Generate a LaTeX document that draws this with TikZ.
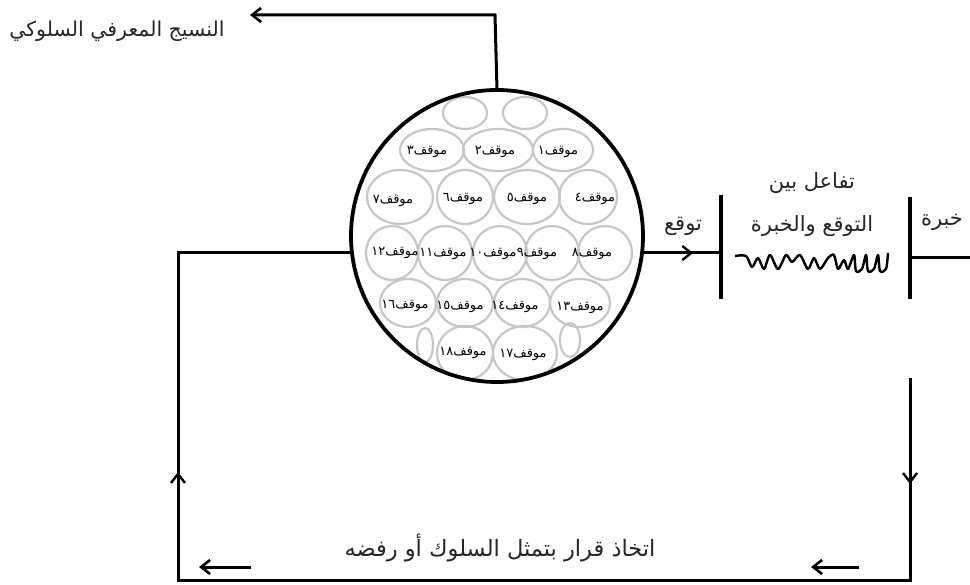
\documentclass[tikz,border=0pt]{standalone}
\usepackage{fontspec}
\usetikzlibrary{arrows.meta,decorations.markings}
\TeXXeTstate=1
\newfontfamily\arabicfont[Script=Arabic]{DejaVu Sans}
\newcommand{\artxt}[1]{\arabicfont\beginR #1\endR}
\newcommand{\mq}[1]{\arabicfont\beginR موقف\beginL#1\endL\endR}
\tikzset{midarrow/.tip={Straight Barb[length=9pt,width=14pt,line width=2.4pt]}}
\begin{document}
\begin{tikzpicture}[x=1pt,y=-1pt,
  conn/.style={line width=3pt,black},
  bar/.style={line width=3.2pt,black},
  barb/.style={-{Straight Barb[length=9pt,width=14pt,line width=2.6pt]}},
  lbl/.style={inner sep=0pt,text=black!85},
  sml/.style={inner sep=0pt,font=\fontsize{13}{15}\selectfont},
  cell/.style={draw=black!22,line width=2.2pt}]
\useasboundingbox (0,0) rectangle (970,585);
\fill[white] (0,0) rectangle (970,585);
% big circle
\node[circle,minimum size=292pt,inner sep=0pt] (big) at (497,236) {};
\begin{scope}
\clip (497,236) circle (146);
\foreach \cx/\cy/\rx/\ry in {465/113/22/16,525/113/22/16,
  432/150/32/21,498/150/35/21,563/150/30/21,
  400/197/33/27,465/197/28/27,527/197/33/27,588/197/29/27,
  392/253/26/27,445/253/27/27,500/253/27/27,552/253/27/27,605/253/27/27,
  408/303/28/24,465/303/28/24,522/303/28/24,580/303/30/24,
  465/353/28/27,525/353/32/27,425/345/8/17,570/340/10/17}
  \draw[cell] (\cx,\cy) ellipse [x radius=\rx, y radius=\ry];
\end{scope}
\draw[line width=3.8pt] (497,236) circle (146);
% labels in cells
\node[sml] (m1) at (558,152) {\mq{١}};
\node[sml] (m2) at (495,152) {\mq{٢}};
\node[sml] (m3) at (427,152) {\mq{٣}};
\node[sml] (m4) at (595,199) {\mq{٤}};
\node[sml] (m5) at (527,199) {\mq{٥}};
\node[sml] (m6) at (463,199) {\mq{٦}};
\node[sml] (m7) at (393,201) {\mq{٧}};
\node[sml] (m8) at (592,254) {\mq{٨}};
\node[sml] (m9) at (537,254) {\mq{٩}};
\node[sml] (m10) at (493,254) {\mq{١٠}};
\node[sml] (m11) at (443,254) {\mq{١١}};
\node[sml] (m12) at (395,253) {\mq{١٢}};
\node[sml] (m13) at (580,308) {\mq{١٣}};
\node[sml] (m14) at (515,307) {\mq{١٤}};
\node[sml] (m15) at (460,307) {\mq{١٥}};
\node[sml] (m16) at (405,306) {\mq{١٦}};
\node[sml] (m17) at (523,355) {\mq{١٧}};
\node[sml] (m18) at (463,353) {\mq{١٨}};
% top label and connector
\node[lbl,font=\fontsize{20.5}{23}\selectfont] (top) at (117,31) {\artxt{النسيج المعرفي السلوكي}};
\coordinate (toptip) at (250,15);
\draw[conn,barb] (big.north) -- (495,15) -- (toptip);
% bars
\coordinate (b1t) at (721,195); \coordinate (b1b) at (721,299);
\coordinate (b2t) at (910,197); \coordinate (b2b) at (910,299);
\draw[bar] (b1t) -- (b1b);
\draw[bar] (b2t) -- (b2b);
% right connector (expectation)
\draw[conn,postaction={decorate},decoration={markings,mark=at position 50pt with {\arrow{midarrow}}}]
  (big.east |- 0,253) -- (b1t |- 0,253);
\coordinate (re) at (970,258);
\draw[conn] (b2t |- 0,258) -- (re);
% texts right
\node[lbl,font=\fontsize{21}{24}\selectfont] (tawaqqu) at (683,226) {\artxt{توقع}};
\node[lbl,font=\fontsize{21}{24}\selectfont] (khibra) at (942,222) {\artxt{خبرة}};
\node[lbl,font=\fontsize{21}{24}\selectfont] (tafa) at (812,183) {\artxt{تفاعل بين}};
\node[lbl,font=\fontsize{21}{24}\selectfont] (ttkh) at (812,226) {\artxt{التوقع والخبرة}};
% wavy line
\draw[line width=2.4pt,line join=round] plot[smooth,tension=0.5] coordinates {
 (735,256) (746,256) (752,267) (758,258) (764,269) (770,255) (778,269) (786,255)
 (792,262) (800,255) (808,269) (814,258) (820,269) (828,258) (834,255) (838,269)
 (844,260) (848,269) (854,255) (856,271) (862,269) (866,255) (868,271) (874,269)
 (878,255) (880,271) (886,269) (888,253)};
% feedback loop
\coordinate (loopstart) at (910,378);
\draw[conn,postaction={decorate},decoration={markings,
   mark=at position 106pt with {\arrow{midarrow}},
   mark=at position 1042pt with {\arrow{midarrow}}}]
  (loopstart) -- (910,580) -- (178,580) -- (178,253) -- (big.west |- 0,253);
% bottom text and arrows
\node[lbl,font=\fontsize{22.5}{25}\selectfont] (dec) at (500,548) {\artxt{اتخاذ قرار بتمثل السلوك أو رفضه}};
\coordinate (a1s) at (251,567); \coordinate (a1e) at (199,567);
\coordinate (a2s) at (859,567); \coordinate (a2e) at (811,567);
\draw[conn,barb] (a1s) -- (a1e);
\draw[conn,barb] (a2s) -- (a2e);
\end{tikzpicture}
\end{document}
